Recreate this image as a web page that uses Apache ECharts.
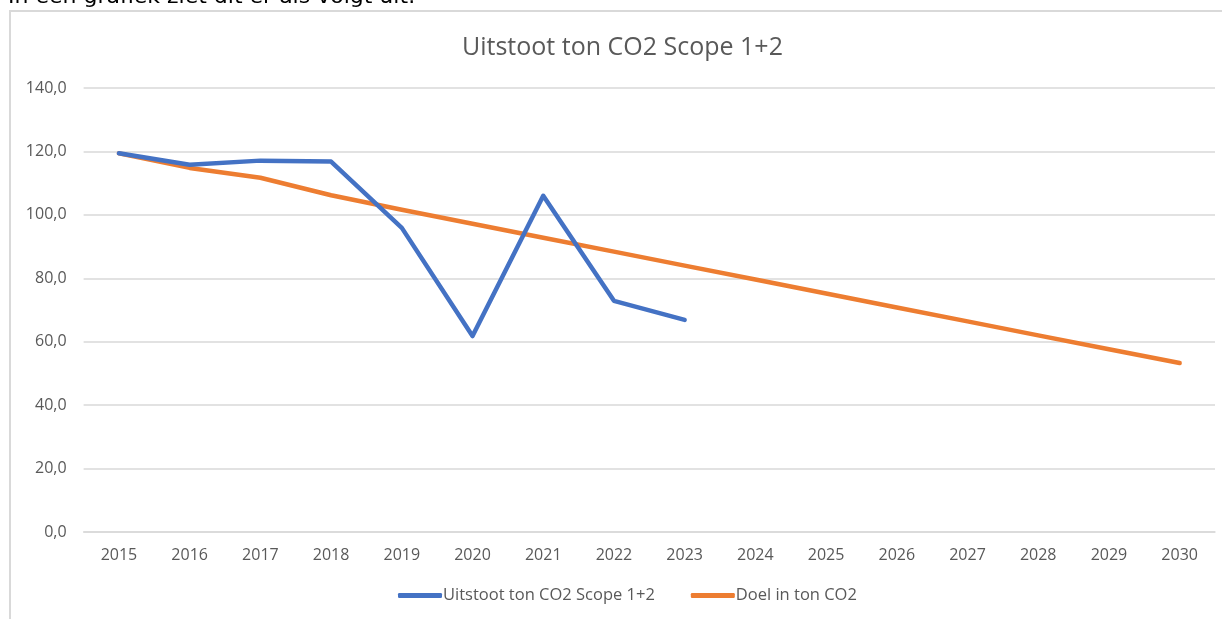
<!DOCTYPE html>
<html>
<head>
<meta charset="utf-8">
<script src="https://cdn.jsdelivr.net/npm/echarts@6/dist/echarts.min.js"></script>
<style>
html,body{margin:0;padding:0;background:#fff;}
#chart{width:1222px;height:619px;}
</style>
</head>
<body>
<div id="chart"></div>
<script>
const years = ['2015','2016','2017','2018','2019','2020','2021','2022','2023','2024','2025','2026','2027','2028','2029','2030'];
const uitstoot = [119.4, 115.8, 117.1, 116.8, 95.9, 61.8, 106.0, 72.9, 66.9];
const doel = [119.4, 114.8, 111.7, 106.2, 101.6, 97.2, 92.8, 88.4, 84.0, 79.6, 75.2, 70.8, 66.4, 62.0, 57.6, 53.3];
const titleText = 'Uitstoot ton CO2 Scope 1+2';
const seriesNames = ['Uitstoot ton CO2 Scope 1+2', 'Doel in ton CO2'];
const introText = 'In een grafiek ziet dit er als volgt uit:';

const chart = echarts.init(document.getElementById('chart'));
const fontFam = '"Open Sans", "Liberation Sans", sans-serif';
chart.setOption({
  animation: false,
  backgroundColor: '#fff',
  graphic: [
    {type:'rect', shape:{x:10, y:11, width:1230, height:640}, style:{fill:'none', stroke:'#d9d9d9', lineWidth:2}, silent:true},
    {type:'text', x:8, y:-3, style:{text:introText, font:'22px "DejaVu Sans", sans-serif', fill:'#000', verticalAlign:'middle', align:'left'}}
  ],
  title: {
    text: titleText,
    left: 457,
    top: 30,
    textStyle: {color:'#595959', fontSize:25, fontWeight:'normal', fontFamily:fontFam}
  },
  legend: {
    bottom: 10,
    left: 393,
    itemWidth: 44,
    itemHeight: 5,
    itemGap: 36,
    icon: 'roundRect',
    data: seriesNames,
    textStyle: {color:'#595959', fontSize:16.5, fontFamily:fontFam, padding:[0,0,0,-4]}
  },
  grid: {left:83.6, right:7, top:88, bottom:87},
  xAxis: {
    type:'category',
    data: years,
    boundaryGap: true,
    axisLine: {show:true, lineStyle:{color:'#d9d9d9', width:1.5}},
    axisTick: {show:false},
    axisLabel: {color:'#595959', fontSize:16, margin:15, fontFamily:fontFam}
  },
  yAxis: {
    type:'value',
    min:0, max:140, interval:20,
    axisLine:{show:false},
    axisTick:{show:false},
    splitLine:{lineStyle:{color:'#d9d9d9', width:1.5}},
    axisLabel:{color:'#595959', fontSize:16, margin:17, fontFamily:fontFam,
      formatter: v => v.toFixed(1).replace('.', ',')}
  },
  series: [
    {name:seriesNames[0], type:'line', data:uitstoot, symbol:'none', smooth:false,
      lineStyle:{color:'#4472C4', width:4.5, cap:'round', join:'round'}, itemStyle:{color:'#4472C4'}, z:3},
    {name:seriesNames[1], type:'line', data:doel, symbol:'none', smooth:false,
      lineStyle:{color:'#ED7D31', width:4.5, cap:'round', join:'round'}, itemStyle:{color:'#ED7D31'}, z:2}
  ]
});
</script>
</body>
</html>
